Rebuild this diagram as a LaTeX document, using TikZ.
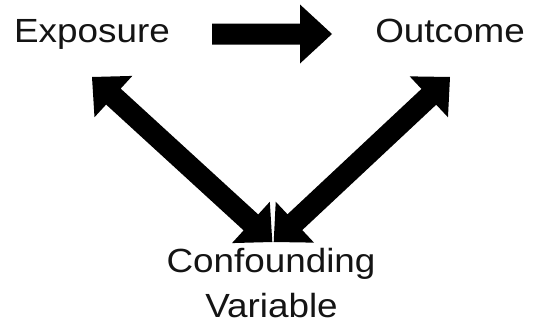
\documentclass[tikz,border=0pt]{standalone}
\usepackage{fontspec}
\setmainfont{Liberation Sans}[FakeStretch=1.10]
\usetikzlibrary{calc}
\tikzset{
  lbl/.style={font=\fontsize{33.5}{40}\selectfont, inner sep=0pt, anchor=base, text=black!92},
  blk/.style={fill=black}
}
% single block arrow: #1 name, #2 tail, #3 tip, #4 shaft half width, #5 head half width, #6 head length
\newcommand{\blkarrow}[6]{%
  \coordinate (#1-h) at ($(#3)!#6!(#2)$);
  \fill[blk] ($(#2)!#4!90:(#3)$) -- ($(#1-h)!#4!-90:(#2)$) -- ($(#1-h)!#5!-90:(#2)$)
    -- (#3) -- ($(#1-h)!#5!90:(#2)$) -- ($(#1-h)!#4!90:(#2)$) -- ($(#2)!#4!-90:(#3)$) -- cycle;
}
% double block arrow: #1 name, #2 tip one, #3 tip two, #4 shaft half, #5 head half, #6 head length
\newcommand{\dblkarrow}[6]{%
  \coordinate (#1-a) at ($(#2)!#6!(#3)$);
  \coordinate (#1-b) at ($(#3)!#6!(#2)$);
  \fill[blk] (#2) -- ($(#1-a)!#5!90:(#3)$) -- ($(#1-a)!#4!90:(#3)$)
    -- ($(#1-b)!#4!-90:(#2)$) -- ($(#1-b)!#5!-90:(#2)$) -- (#3)
    -- ($(#1-b)!#5!90:(#2)$) -- ($(#1-b)!#4!90:(#2)$)
    -- ($(#1-a)!#4!-90:(#3)$) -- ($(#1-a)!#5!-90:(#3)$) -- cycle;
}
\begin{document}
\begin{tikzpicture}[x=1pt,y=-1pt]
  \fill[white] (0,0) rectangle (533,324);
  \useasboundingbox (0,0) rectangle (533,324);
  % labels
  \node[lbl] (exposure) at (92,42) {Exposure};
  \node[lbl] (outcome) at (450,42) {Outcome};
  \node[lbl] (conf) at (271,272) {Confounding};
  \node[lbl] (var) at (271.5,317) {Variable};
  % arrow end points
  \coordinate (eo-s) at (212,34);
  \coordinate (eo-t) at (332,34);
  \coordinate (ce-t) at (92,77);
  \coordinate (ce-s) at (272.3,242);
  \coordinate (co-t) at (450,77);
  \coordinate (co-s) at (273.7,242);
  % arrows
  \blkarrow{eo}{eo-s}{eo-t}{10.5pt}{29.5pt}{32pt}
  \dblkarrow{ce}{ce-t}{ce-s}{10.8pt}{28pt}{29pt}
  \dblkarrow{co}{co-t}{co-s}{10.8pt}{28pt}{29pt}
\end{tikzpicture}
\end{document}
